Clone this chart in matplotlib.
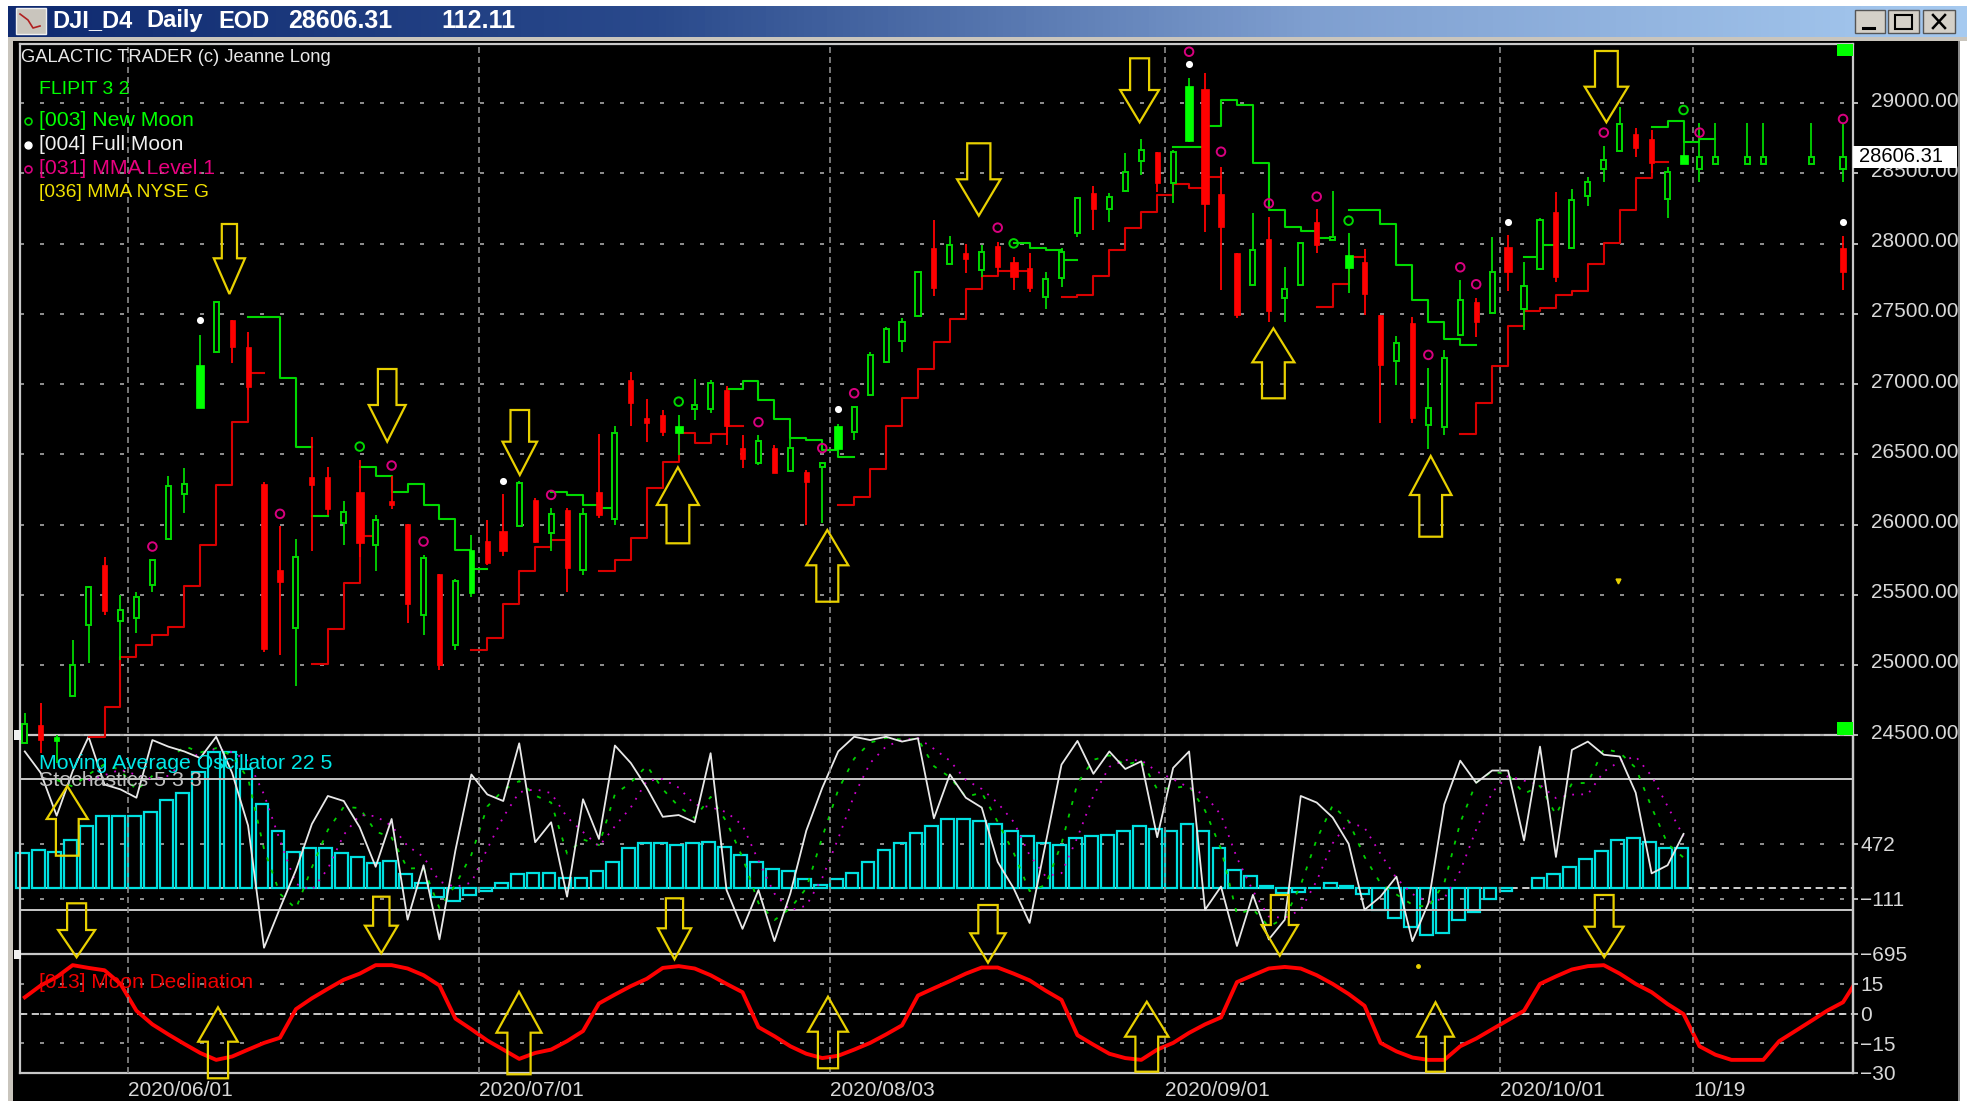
import numpy as np
import matplotlib
matplotlib.use('Agg')
import matplotlib.pyplot as plt
from matplotlib.patches import Polygon, Rectangle
from matplotlib.transforms import ScaledTranslation
from matplotlib.colors import LinearSegmentedColormap

plt.rcParams['font.family'] = ['Liberation Sans', 'DejaVu Sans']

W, H = 1967, 1101

# candles
bar_index = list(range(107)) + [108, 109, 112, 114, 114]
high = [24657, 24728, 24500, 25179, 25559, 25772, 25499, 25516, 25749, 26349,
        26401, 27350, 27592, 27457, 27374, 26300, 25986, 25896, 26622, 26408,
        26164, 26460, 26069, 26342, 26005, 25784, 25649, 25613, 25922, 26033,
        26216, 26311, 26188, 26116, 26116, 26116, 26646, 26705, 27089, 26892,
        26816, 26781, 27037, 27030, 26987, 26634, 26634, 26567, 26615, 26385,
        26444, 26717, 26840, 27231, 27404, 27469, 27808, 28169, 28057, 27998,
        27991, 28010, 27908, 27936, 27801, 27967, 28330, 28413, 28363, 28648,
        28745, 28655, 28667, 29177, 29213, 28548, 27931, 28216, 28192, 27836,
        28010, 28245, 28378, 28074, 27960, 27492, 27345, 27481, 27113, 27243,
        27742, 27611, 28045, 28062, 27872, 28181, 28366, 28390, 28477, 28698,
        28976, 28821, 28810, 28548, 28857, 28857, 28857, 28857, 28857, 28857,
        28857, 28057]
body_top = [24581, 24569, 24490, 24996, 25554, 25713, 25393, 25487, 25749, 26275,
            26287, 27137, 27587, 27457, 27262, 26290, 25673, 25772, 26337, 26337,
            26088, 26235, 26029, 26164, 26005, 25760, 25649, 25599, 25820, 25884,
            25957, 26299, 26176, 26076, 26105, 26076, 26235, 26655, 27030, 26757,
            26781, 26705, 26852, 27011, 26959, 26544, 26596, 26544, 26544, 26373,
            26437, 26698, 26835, 27207, 27393, 27445, 27796, 27972, 27991, 27931,
            27943, 27986, 27872, 27824, 27746, 27943, 28323, 28363, 28335, 28508,
            28667, 28655, 28655, 29125, 29099, 28354, 27931, 27955, 28033, 27675,
            28003, 28157, 28045, 27920, 27872, 27492, 27296, 27433, 26828, 27184,
            27599, 27583, 27796, 27974, 27699, 28169, 28228, 28311, 28437, 28596,
            28852, 28781, 28743, 28513, 28632, 28620, 28620, 28620, 28620, 28620,
            28620, 27967]
body_bot = [24443, 24467, 24455, 24776, 25286, 25381, 25310, 25333, 25571, 25900,
            26218, 26833, 27232, 27262, 26982, 25113, 25594, 25262, 26280, 26109,
            26010, 25867, 25855, 26140, 25435, 25357, 25001, 25139, 25511, 25725,
            25808, 25991, 25874, 25938, 25689, 25677, 26069, 26038, 26864, 26722,
            26662, 26650, 26821, 26821, 26698, 26465, 26437, 26366, 26382, 26306,
            26406, 26539, 26662, 26923, 27160, 27310, 27485, 27682, 27855, 27889,
            27813, 27836, 27765, 27682, 27623, 27758, 28074, 28247, 28247, 28377,
            28591, 28430, 28430, 28733, 28282, 28121, 27492, 27706, 27521, 27611,
            27706, 27991, 28026, 27825, 27642, 27137, 27167, 26762, 26710, 26691,
            27350, 27445, 27509, 27801, 27533, 27818, 27765, 27967, 28342, 28532,
            28662, 28679, 28572, 28318, 28565, 28530, 28568, 28568, 28568, 28568,
            28530, 27801]
low = [24440, 24372, 24300, 24776, 25013, 25357, 25037, 25227, 25516, 25900,
       26081, 26833, 27232, 27153, 26960, 25089, 25072, 24847, 25813, 26069,
       25851, 25768, 25666, 26109, 25298, 25215, 24965, 25103, 25483, 25713,
       25779, 25991, 25867, 25813, 25518, 25642, 26045, 25998, 26698, 26591,
       26627, 26496, 26745, 26797, 26563, 26401, 26425, 26366, 26382, 26000,
       26010, 26539, 26603, 26923, 27150, 27226, 27485, 27630, 27855, 27789,
       27765, 27801, 27670, 27658, 27533, 27694, 28050, 28097, 28157, 28370,
       28489, 28370, 28292, 28726, 28085, 27670, 27469, 27706, 27445, 27445,
       27706, 27936, 28026, 27652, 27492, 26722, 26994, 26722, 26539, 26638,
       27350, 27334, 27509, 27666, 27386, 27818, 27730, 27967, 28268, 28442,
       28662, 28615, 28501, 28181, 28565, 28442, 28568, 28568, 28568, 28568,
       28442, 27670]
candle_col = list('grgggrgggggg' 'grrrrgrrgrgr' 'rgrggrrgrgrg' 'rgrrrgggrrgr'
                  'grgggggggrgr' 'grrrgggrgggr' 'ggrrrgrggrgg' 'rrgrgggrgrgg'
                  'rggggrrgggg' 'ggggr')
filled_green = [2, 11, 28, 41, 51, 73, 83, 104]
wide_bars = [11, 21, 30, 41, 51, 62, 73, 74, 83, 93, 104]

new_moon_x = [21, 41, 62, 83, 104]
new_moon_y = [26555, 26875, 28002, 28164, 28952]
full_moon_x = [11, 30, 51, 73, 93, 114]
full_moon_y = [27457, 26313, 26821, 29277, 28157, 28157]
mma_x = [8, 16, 23, 25, 33, 46, 50, 52, 61, 73, 75, 78, 81, 88, 90, 91, 99, 105, 114]
mma_y = [25843, 26076, 26420, 25879, 26211, 26729, 26544, 26935, 28114, 29367,
         28655, 28287, 28335, 27208, 27832, 27711, 28791, 28791, 28888]

# FLIPIT stairs: (first bar, levels)
red_runs = [(4, [24490, 24700, 25056, 25143, 25215, 25267, 25559, 25855, 26282, 26729, 27082]),
            (18, [25008, 25255, 25587, 25919]),
            (28, [25105, 25191, 25435, 25670, 25843, 25891]),
            (36, [25670, 25746, 25903, 26259, 26444, 26655, 26584, 26643, 26703]),
            (51, [26140, 26199, 26396, 26703, 26899, 27105, 27302, 27464, 27675, 27770, 27808, 27808]),
            (65, [27623, 27635, 27770, 27955, 28114, 28223, 28347, 28422, 28399, 28472]),
            (81, [27552, 27711, 27908]),
            (90, [26643, 26864, 27132, 27414, 27523, 27540, 27635, 27663, 27856, 28003, 28238, 28470, 28584])]
green_runs = [(14, [27481, 27481, 27046, 26555]),
              (18, [26064]),
              (21, [26408, 26347, 26235, 26285, 26138, 26038, 25817, 25682]),
              (33, [26235, 26211, 26138, 26116]),
              (44, [26964, 27023, 26888, 26752, 26617, 26603, 26532, 26484]),
              (62, [28007, 27967, 27955, 27884]),
              (72, [28691, 28691, 28840, 29023, 28987, 28572, 28240, 28117, 28093, 28038]),
              (83, [28238, 28238, 28140, 27848, 27599, 27440, 27319, 27279]),
              (94, [27908, 27991]),
              (102, [28828, 28876, 28726, 28743])]

# oscillator bars, bar 0 onwards
osc = [371, 406, 389, 512, 661, 770, 770, 770, 806, 936, 1007, 1230, 1441, 1441, 1261,
       894, 608, 382, 424, 424, 371, 329, 272, 293, 148, 53, -88, -134, -71, -25,
       53, 148, 166, 166, 113, 113, 184, 276, 424, 477, 477, 459, 477, 495, 442,
       353, 276, 205, 184, 95, 39, 95, 166, 276, 406, 477, 590, 661, 735, 735,
       717, 678, 608, 551, 477, 459, 533, 551, 569, 604, 661, 625, 604, 678, 604,
       424, 198, 131, 25, -53, -42, 0, 53, 25, -60, -230, -318, -406, -495, -477,
       -336, -254, -117, -25, None, 113, 148, 223, 311, 399, 512, 533, 495, 424, 424]

# stochastics 5 3 3
stoch = [92.5, 82.7, 63.2, 83.5, 99.2, 77.4, 75.2, 71.4, 97.7, 94.7, 92.5, 89.5, 99.2, 82.7, 58.7,
         3, 21, 38.4, 59.4, 72.2, 69.9, 57.9, 39.9, 61.7, 15.8, 40.6, 6.8, 47.4, 82, 72.9,
         69.9, 96.2, 51.1, 60.2, 26.3, 70.7, 52.6, 95.2, 87.2, 75.9, 62.7, 63.5, 60.2, 91.7, 29.3,
         11.6, 29.3, 6, 27.8, 56.4, 75.9, 92.5, 99.2, 97.7, 99.2, 97, 98.5, 62, 82, 71.4,
         66.9, 42.1, 30.1, 14.3, 50.4, 86.5, 97.3, 82.3, 92.5, 84.5, 88, 53.4, 85, 92.5, 20.3,
         30.9, 3.8, 27.1, 6.8, 15.8, 72.2, 69.2, 62.4, 50.4, 20.3, 26.3, 35.4, 6, 23.3, 68.4,
         88.3, 78.2, 83.8, 83.8, 51.9, 94.7, 44.4, 93.2, 97, 91, 90.2, 73.7, 36.9, 40.6, 54.9]
stoch_k = [79.5, 76.5, 82, 86.7, 84, 74.7, 81.4, 88, 95, 92, 94, 90.5, 80.2, 48, 27.6,
           20.8, 39.6, 56.7, 67.2, 66.7, 56, 53.2, 39.1, 39.4, 21, 31.6, 45.4, 67.4, 74.9, 79,
           72.4, 69.2, 45.9, 52.4, 49.8, 73, 78.3, 86, 75.3, 67.4, 62.1, 71.8, 60.4, 44.2, 23.4,
           15.6, 21, 30.1, 53.4, 75, 89.2, 96.5, 98.7, 97.9, 98.2, 85.8, 80.8, 71.8, 73.7, 60.4,
           46.3, 28.8, 31.6, 50.4, 78, 88.7, 90.7, 86.4, 88.3, 75.3, 75.8, 76.8, 65.6, 48.1, 18.3,
           20.6, 12.6, 16.6, 31.6, 52.4, 67.9, 60.7, 44.4, 32.4, 27.3, 22.6, 21.5, 32.5, 60, 78.3,
           83.5, 81.9, 73.2, 76.8, 63.7, 77.9, 78.2, 93.7, 92, 85, 67, 50.4, 44.1]
stoch_d = [79.3, 81.7, 84.2, 81.8, 80, 81.4, 88.1, 91.7, 93.7, 92.2, 88.2, 72.9, 51.9, 32.1, 29.3,
           39, 54.5, 63.5, 63, 58.6, 49.4, 44.4, 33.2, 30.7, 32.7, 48.1, 62.6, 73.9, 75.3, 73.5,
           62.5, 55.8, 49.2, 58.4, 67, 79.1, 79.9, 76, 68.3, 67.1, 64.8, 58.8, 42.7, 27.7, 20,
           22.2, 34.8, 52.8, 72.5, 87.2, 94.8, 97.7, 98.6, 93.7, 88.3, 79.5, 75.4, 69, 60.4, 45.2,
           35.6, 37, 53.3, 72.3, 85.5, 88.6, 88.5, 83.3, 79.8, 76, 72.7, 63.5, 44, 29, 17.2,
           16.6, 20.3, 33.5, 50.6, 60.3, 57.7, 45.8, 34.7, 27.5, 23.8, 25.5, 38, 56.9, 73.9, 81.3,
           79.2, 77.3, 71.2, 72.8, 73, 83.3, 88, 90.2, 81.3, 67.5, 53.8]

# moon declination, bar 0 onwards
moon_dec = [8.2, 14.2, 18.5, 24.5, 23.1, 21.9, 15, 1.4, -5.5, -10.6, -15.4, -20, -23.5, -21.8, -18.3,
            -14.9, -12.3, 2.2, 7.7, 12.5, 17.1, 20.2, 24.5, 24.5, 22.8, 19.4, 14.2, -2.6, -8, -13.7,
            -18.3, -23, -20, -18.3, -14, -8.9, 5.1, 9.6, 13.9, 17.6, 23.1, 24, 22.8, 19.4, 15,
            10.8, -6.9, -11.5, -16.6, -20.4, -22.6, -21.4, -18.3, -14.9, -10.6, -6, 9.1, 12.8, 16.4, 20.2,
            23.3, 23.3, 20.2, 16.8, 11.6, 6.9, -11, -15.8, -20.4, -22.6, -23.5, -18.3, -14.9, -9.8, -5.5,
            -2, 15.9, 19.4, 22.8, 23.6, 22.8, 19.4, 15, 9.9, 3.9, -14.9, -19.2, -22.3, -23.5, -23.5,
            -16.6, -12.7, -8, -3.3, 1.4, 15, 18.8, 22.3, 24, 24.5, 20.2, 15, 10.8, 4.8, -0.3,
            -16.6, -20.9, -23.5, -23.5, -23.5, -14, -8.9, -3.8, 1.4, 5.7, 18.5]

date_pos = [6.5, 28.5, 50.5, 71.5, 92.5, 104.6]
date_labels = ['2020/06/01', '2020/07/01', '2020/08/03', '2020/09/01', '2020/10/01', '10/19']
price_ticks = [24500, 25000, 25500, 26000, 26500, 27000, 27500, 28000, 28500, 29000]
osc_ticks = [472, -111, -695]
dec_ticks = [15, 0, -15, -30]

# hand drawn arrows on the screenshot, pixels: x, shaft half, head half, tail, base, tip
arrows = [(229.4, 7.6, 15.6, 224, 258.3, 294), (387.2, 9.3, 18.5, 369, 405, 441.7),
          (519.8, 9.3, 17.3, 410, 441.7, 475), (978.8, 11.6, 21.7, 143.3, 179.3, 215.7),
          (1139.6, 9.5, 19.4, 58.3, 90, 122.3), (1606.4, 11.4, 21.7, 51, 86.7, 122.3),
          (677.9, 11.4, 21, 543.3, 505, 467.3), (827.3, 11, 21, 601.7, 565.3, 530),
          (1273.4, 11.4, 21, 398.3, 362.3, 328.3), (1430.7, 11.4, 20.8, 536.7, 495, 456),
          (67.3, 11.4, 20.6, 855.7, 819, 786), (76.6, 9.5, 18.5, 903.3, 930, 957.3),
          (381.3, 8.2, 16.4, 896.7, 925.7, 953.3), (674.5, 8.6, 16.6, 898.3, 928.3, 959.3),
          (988, 9.7, 17.7, 905, 933.3, 962.7), (1279.8, 9, 18.3, 895, 925, 955.7),
          (1604.2, 9.4, 19.3, 895, 926.7, 957.3), (218, 10.1, 19.8, 1078.3, 1041.7, 1007.3),
          (519, 11.6, 22.5, 1074.3, 1032.7, 991.7), (828, 10.1, 20, 1068.3, 1031.7, 996.7),
          (1146.8, 11.4, 21.7, 1071.7, 1036.7, 1001.7), (1435.5, 9.4, 18.4, 1071.7, 1036.7, 1002.3)]

GRID = '#8c8c8c'
LINE = '#c8c8c8'
TXT = '#d8d8d8'
RED = '#ff0000'
DRED = '#d80000'
GRN = '#00d800'
BGRN = '#00ff00'
CYAN = '#00e0e0'
YEL = '#e8d000'
MAG = '#d8007f'


def rect(x0, y0, x1, y1):
    return [x0 / W, 1 - y1 / H, (x1 - x0) / W, (y1 - y0) / H]


fig = plt.figure(figsize=(W / 100, H / 100), dpi=100, facecolor='white')

# window behind everything
bg = fig.add_axes([0, 0, 1, 1], zorder=0)
bg.set_xlim(0, W)
bg.set_ylim(H, 0)
bg.axis('off')
cm = LinearSegmentedColormap.from_list('tb', ['#0f2a70', '#2a4a8c', '#7f9fd0', '#a6caf0'])
bg.imshow(np.linspace(0, 1, 256).reshape(1, -1), extent=(8, W, 37, 6), aspect='auto', cmap=cm)
bg.set_xlim(0, W)
bg.set_ylim(H, 0)
bg.add_patch(Rectangle((8, 37), W - 8, 4, color='#c9c5bd', lw=0))
bg.add_patch(Rectangle((8, 37), 5, H, color='#c9c5bd', lw=0))
bg.add_patch(Rectangle((13, 41), 1946, H, color='black', lw=0))

# lower panels first, main panel draws over them
x_lim = (-0.3, 114.6)
ax2 = fig.add_axes(rect(20, 735, 1852.6, 954.3), zorder=1, facecolor='none')
ax2.set_xlim(*x_lim)
ax2.set_ylim(-700, 1625)
ax_st = fig.add_axes(rect(20, 735, 1852.6, 954.3), zorder=1.5, facecolor='none')
ax_st.set_xlim(*x_lim)
ax_st.set_ylim(0, 100)
ax_st.axis('off')
ax3 = fig.add_axes(rect(20, 954.3, 1852.6, 1072.7), zorder=1, facecolor='none')
ax3.set_xlim(*x_lim)
ax3.set_ylim(-30, 30)
ax = fig.add_axes(rect(20, 44, 1852.6, 1072.7), zorder=2, facecolor='none')
ax.set_xlim(*x_lim)
ax.set_ylim(22096, 29422)

dot_ls = (0, (2.4, 9.6))
vdash = (0, (3.6, 2.4))

ax.set_axisbelow(True)
ax.set_yticks(price_ticks)
ax.set_yticklabels(['%.2f' % p for p in price_ticks])
ax.set_xticks(date_pos)
ax.set_xticklabels([])
ax.yaxis.tick_right()
ax.grid(axis='y', color='#a8a8a8', lw=1.2, ls=dot_ls)
ax.grid(axis='x', color=GRID, lw=1.2, ls=vdash)
ax.tick_params(axis='y', colors=TXT, labelsize=15, length=3.6, width=1.2, pad=9.6, labelcolor=TXT)
ax.tick_params(axis='x', length=0)
for s in ['left', 'right', 'top']:
    ax.spines[s].set_color(LINE)
    ax.spines[s].set_linewidth(1.6)
ax.spines['bottom'].set_visible(False)
lift = ScaledTranslation(0, 4 / 100, fig.dpi_scale_trans)
for lab in ax.get_yticklabels():
    lab.set_transform(lab.get_transform() + lift)

for run_start, levels in red_runs:
    xs = np.arange(run_start, run_start + len(levels) + 1)
    ax.step(xs, list(levels) + [levels[-1]], where='post', color=DRED, lw=1.5, zorder=2)
for run_start, levels in green_runs:
    xs = np.arange(run_start, run_start + len(levels) + 1)
    ax.step(xs, list(levels) + [levels[-1]], where='post', color=GRN, lw=1.5, zorder=2)

for i, h, t, b, l, c in zip(bar_index, high, body_top, body_bot, low, candle_col):
    col = RED if c == 'r' else GRN
    ax.plot([i, i], [l, h], color=col, lw=1.3, zorder=3, solid_capstyle='butt')
    w = 0.5 if i in wide_bars else 0.32
    if c == 'r' or i in filled_green:
        fc = RED if c == 'r' else BGRN
        ax.add_patch(Rectangle((i - w / 2, b), w, t - b, facecolor=fc, edgecolor=fc, lw=0.5, zorder=4))
    else:
        ax.add_patch(Rectangle((i - w / 2, b), w, t - b, facecolor='black', edgecolor=GRN, lw=1.4, zorder=4))

ax.scatter(new_moon_x, new_moon_y, s=38, facecolor='none', edgecolor=GRN, lw=1.4, zorder=5)
ax.scatter(full_moon_x, full_moon_y, s=26, color='white', lw=0, zorder=5)
ax.scatter(mma_x, mma_y, s=38, facecolor='none', edgecolor=MAG, lw=1.4, zorder=5)

# oscillator panel
osc_x = np.arange(len(osc))
osc_v = np.array(osc, dtype=float)
keep = ~np.isnan(osc_v)
ax2.set_axisbelow(True)
ax2.set_yticks(osc_ticks)
ax2.yaxis.tick_right()
ax2.set_xticks([])
ax2.grid(axis='y', color='#a8a8a8', lw=1.2, ls=dot_ls)
ax2.axhline(0, color='#e0e0e0', lw=1.3, ls=(0, (4, 2.5)), zorder=1)
ax2.bar(osc_x[keep] - 0.13, osc_v[keep], width=0.8, facecolor='none', edgecolor=CYAN, lw=1.6,
        zorder=2, clip_on=False)
ax2.tick_params(axis='y', colors=TXT, labelsize=15, length=3.6, width=1.2, pad=2)
for s in ['left', 'right', 'top', 'bottom']:
    ax2.spines[s].set_visible(False)
ax2.spines['right'].set_visible(True)
ax2.spines['right'].set_color(LINE)
ax2.spines['right'].set_linewidth(1.6)

ax_st.axhline(80, color=LINE, lw=1.4)
ax_st.axhline(20, color=LINE, lw=1.4)
ax_st.axhline(100, color=LINE, lw=1.6, clip_on=False)
ax_st.axhline(0, color=LINE, lw=1.6, clip_on=False)
ax_st.plot(np.arange(len(stoch)), stoch, color='#e8e8e8', lw=1.3, zorder=4, clip_on=False)
ax_st.plot(np.arange(2, 2 + len(stoch_k)), stoch_k, color='#00d000', lw=1.3, ls=(0, (2.2, 5)), zorder=3)
ax_st.plot(np.arange(4, 4 + len(stoch_d)), stoch_d, color='#d000d0', lw=1.3, ls=(0, (1, 4)), zorder=3)

# declination panel
ax3.set_axisbelow(True)
ax3.set_yticks(dec_ticks)
ax3.yaxis.tick_right()
ax3.set_xticks(date_pos)
ax3.set_xticklabels(date_labels, ha='left', color=TXT, fontsize=15)
ax3.tick_params(axis='x', length=0, pad=6)
ax3.grid(axis='y', color='#a8a8a8', lw=1.2, ls=dot_ls)
ax3.axhline(0, color='#d8d8d8', lw=1.3, ls=(0, (4, 2.5)), zorder=1)
ax3.plot(np.arange(len(moon_dec)), moon_dec, color=RED, lw=2.8, zorder=3)
ax3.tick_params(axis='y', colors=TXT, labelsize=15, length=3.6, width=1.2, pad=2)
for s in ['left', 'top']:
    ax3.spines[s].set_visible(False)
for s in ['right', 'bottom']:
    ax3.spines[s].set_color(LINE)
    ax3.spines[s].set_linewidth(1.6)

# overlay in screenshot pixels
top = fig.add_axes([0, 0, 1, 1], zorder=5, facecolor='none')
top.set_xlim(0, W)
top.set_ylim(H, 0)
top.axis('off')

for x, s, h, tail, base, tip in arrows:
    pts = [(x - s, tail), (x + s, tail), (x + s, base), (x + h, base), (x, tip), (x - h, base), (x - s, base)]
    top.add_patch(Polygon(pts, closed=True, fill=False, edgecolor=YEL, lw=1.6, zorder=6))

top.plot([1618], [581], marker='v', ms=3.5, color=YEL, lw=0)
top.plot([1417.6], [965.7], marker='o', ms=2.5, color=YEL, lw=0)

top.text(21, 57, 'GALACTIC TRADER (c) Jeanne Long', color='#e8e8e8', fontsize=13.2, va='center')
top.text(39, 89, 'FLIPIT 3 2', color=BGRN, fontsize=14, va='center')
top.text(39, 120.7, '[003] New Moon', color=BGRN, fontsize=15.3, va='center')
top.text(39, 144.7, '[004] Full Moon', color='#f0f0f0', fontsize=15, va='center')
top.text(39, 168.7, '[031] MMA Level.1', color='#e8007f', fontsize=15.3, va='center')
top.text(39, 192.7, '[036] MMA NYSE G', color='#f0e000', fontsize=13.8, va='center')
top.plot([28], [120.7], marker='o', ms=5, mfc='none', mec=GRN, mew=1.2)
top.plot([28], [144.7], marker='o', ms=5, color='white')
top.plot([28], [168.7], marker='o', ms=5, mfc='none', mec=MAG, mew=1.2)
top.text(39, 763.5, 'Moving Average Oscillator 22 5', color='#00e8e8', fontsize=15.3, va='center')
top.text(39, 781, 'Stochastics 5 3 3', color='#c0c0c0', fontsize=15.4, va='center')
top.text(39, 983, '[013] Moon Declination', color='#f00000', fontsize=15, va='center')

# corner handles
top.add_patch(Rectangle((1837, 44), 16, 12, color=BGRN, lw=0))
top.add_patch(Rectangle((1837, 722), 16, 13, color=BGRN, lw=0))
top.add_patch(Rectangle((14, 730), 7, 10, color='#f0f0f0', lw=0))
top.add_patch(Rectangle((14, 950), 7, 9, color='#f0f0f0', lw=0))

# last price tag
top.add_patch(Rectangle((1853, 145.7), 104, 22, facecolor='white', edgecolor='none'))
top.text(1859, 157, '28606.31', color='black', fontsize=14.5, va='center')

# window frame and title bar text
top.add_patch(Rectangle((1958, 41), 2, H, color='#8a8a8a', lw=0))
top.add_patch(Rectangle((1960, 41), 7, H, color='#ffffff', lw=0))
for tx, s, fs in [(52.6, 'DJI_D4', 17), (146.5, 'Daily', 17), (218, 'EOD', 17), (288, '28606.31', 18), (441, '112.11', 18)]:
    top.text(tx, 21, s, color='white', fontsize=fs, fontweight='bold', va='center')
top.add_patch(Rectangle((16, 8), 30, 26, facecolor='#c9c5bd', edgecolor='#f0f0f0', lw=1))
top.plot([20, 28, 33, 40], [14, 20, 28, 26], color='#b02020', lw=1.2)
for bx, bw in [(1855, 30), (1888, 31), (1923, 32)]:
    top.add_patch(Rectangle((bx, 10), bw, 23, facecolor='#d4d0c8', edgecolor='#555555', lw=1))
top.plot([1863, 1874], [28, 28], color='black', lw=2.2)
top.add_patch(Rectangle((1895, 15), 17, 14, fill=False, edgecolor='black', lw=1.5))
top.plot([1933, 1945], [15, 28], color='black', lw=1.8)
top.plot([1933, 1945], [28, 15], color='black', lw=1.8)

fig.savefig('out.png', dpi=100, facecolor='white')
